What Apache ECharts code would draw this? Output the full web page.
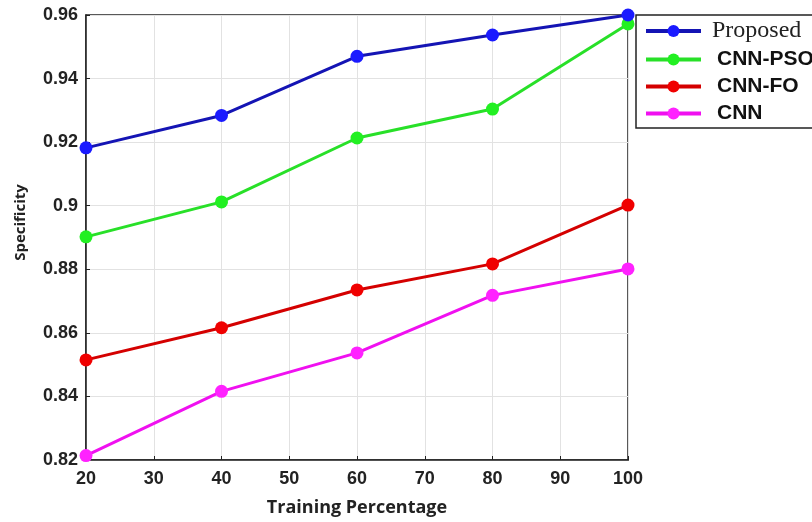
<!DOCTYPE html>
<html>
<head>
<meta charset="utf-8">
<script src="https://cdn.jsdelivr.net/npm/echarts@6/dist/echarts.min.js"></script>
<style>html,body{margin:0;padding:0;background:#fff;}#c{width:812px;height:522px;}</style>
</head>
<body>
<div id="c"></div>
<script>
const trainingPct = [20, 40, 60, 80, 100];
const proposed = [0.9182, 0.9284, 0.9470, 0.9537, 0.9600];
const cnnPso   = [0.8902, 0.9012, 0.9213, 0.9304, 0.9572];
const cnnFo    = [0.8515, 0.8616, 0.8735, 0.8817, 0.9002];
const cnn      = [0.8214, 0.8416, 0.8537, 0.8718, 0.8801];
const seriesNames = ['Proposed', 'CNN-PSO', 'CNN-FO', 'CNN'];
const yTicks = [0.82, 0.84, 0.86, 0.88, 0.9, 0.92, 0.94, 0.96];
const xTicks = [20, 30, 40, 50, 60, 70, 80, 90, 100];

const colors = [
  {line: '#1414b4', mark: '#1a1aff'},
  {line: '#28e028', mark: '#22f022'},
  {line: '#d40000', mark: '#f00000'},
  {line: '#f010f0', mark: '#ff22ff'}
];
const datasets = [proposed, cnnPso, cnnFo, cnn];

const chart = echarts.init(document.getElementById('c'), null, {renderer: 'canvas'});
const option = {
  backgroundColor: '#fff',
  animation: false,
  grid: {left: 86, right: 184, top: 15, bottom: 62, show: true, borderColor: '#222', borderWidth: 1.5, backgroundColor: 'transparent'},
  xAxis: {
    type: 'value', min: xTicks[0], max: xTicks[xTicks.length - 1], interval: 10,
    name: 'Training Percentage', nameLocation: 'middle', nameGap: 39,
    nameTextStyle: {fontFamily: 'Open Sans', fontWeight: 'bold', fontSize: 18, color: '#222'},
    axisLine: {show: true, lineStyle: {color: '#222', width: 1.5}},
    axisTick: {show: true, inside: true, length: 4, lineStyle: {color: '#222'}},
    axisLabel: {fontFamily: 'Liberation Sans', fontWeight: 'bold', fontSize: 18, color: '#222', margin: 10},
    splitLine: {show: true, lineStyle: {color: '#e2e2e2', width: 1}}
  },
  yAxis: {
    type: 'value', min: yTicks[0], max: yTicks[yTicks.length - 1], interval: 0.02,
    name: 'Specificity', nameLocation: 'middle', nameGap: 58, nameRotate: 90,
    nameTextStyle: {fontFamily: 'Open Sans', fontWeight: 'bold', fontSize: 15, color: '#222', padding: [0, 0, 0, 30]},
    axisLine: {show: true, lineStyle: {color: '#222', width: 1.5}},
    axisTick: {show: true, inside: true, length: 4, lineStyle: {color: '#222'}},
    axisLabel: {fontFamily: 'Liberation Sans', fontWeight: 'bold', fontSize: 18, color: '#222', margin: 8,
      formatter: v => String(parseFloat(v.toFixed(2)))},
    splitLine: {show: true, lineStyle: {color: '#e2e2e2', width: 1}}
  },
  legend: {
    orient: 'vertical', left: 636, top: 15,
    itemWidth: 55, itemHeight: 15, itemGap: 6,
    padding: [4, 60, 4, 8],
    borderColor: '#222', borderWidth: 1.5, backgroundColor: '#fff',
    lineStyle: {width: 4},
    data: seriesNames.map((n, i) => ({
      name: n,
      textStyle: i === 0
        ? {fontFamily: 'Liberation Serif', fontSize: 24, color: '#222', fontWeight: 'normal', padding: [0, 0, 0, 6]}
        : {fontFamily: 'Liberation Sans', fontWeight: 'bold', fontSize: 21, color: '#111', padding: [0, 0, 0, 11]}
    }))
  },
  series: seriesNames.map((n, i) => ({
    name: n, type: 'line',
    data: trainingPct.map((x, j) => [x, datasets[i][j]]),
    symbol: 'circle', symbolSize: 13,
    lineStyle: {color: colors[i].line, width: 3},
    itemStyle: {color: colors[i].mark},
    clip: false,
    z: 10 - i
  }))
};
chart.setOption(option);
</script>
</body>
</html>
